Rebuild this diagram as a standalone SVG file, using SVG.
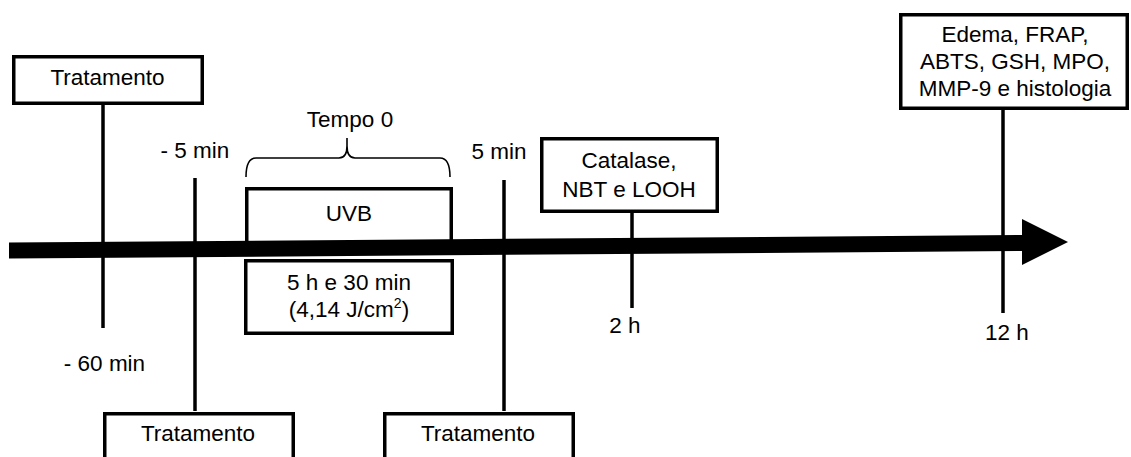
<svg xmlns="http://www.w3.org/2000/svg" width="1131" height="457" viewBox="0 0 1131 457">
<style>
.box{fill:#fff;stroke:#000;stroke-width:3.5}
.ln{stroke:#000;stroke-width:3.5;fill:none}
.br{stroke:#000;stroke-width:1.6;fill:none}
text{font-family:"Liberation Sans",Arial,sans-serif;font-size:22.5px;fill:#000;text-anchor:middle}
</style>
<rect width="1131" height="457" fill="#fff"/>
<g id="connectors">
<line class="ln" x1="103" y1="105" x2="103" y2="328"/>
<line class="ln" x1="195" y1="178" x2="195" y2="411"/>
<line class="ln" x1="504" y1="180" x2="504" y2="411"/>
<line class="ln" x1="632" y1="212" x2="632" y2="308"/>
<line class="ln" x1="1003" y1="109" x2="1003" y2="313"/>
<path class="br" d="M246,177 Q246,158 256,158 L339,158 Q347,158 347,146 L347,138 M347,146 Q347,158 355,158 L440,158 Q450,158 450,177"/>
</g>
<g id="uvb">
<rect class="box" x="246.75" y="188.75" width="204.5" height="55"/>
<text x="349" y="221">UVB</text>
</g>
<g id="timeline">
<polygon points="9,242.5 1022,235 1022,219 1068,242 1022,265 1022,251 9,258.5" fill="#000"/>
</g>
<g id="trat-top">
<rect class="box" x="13.75" y="56.75" width="188.5" height="46.5"/>
<text x="107.5" y="85">Tratamento</text>
</g>
<g id="trat-bl">
<rect class="box" x="104.75" y="413.75" width="188.5" height="60"/>
<text x="198" y="441">Tratamento</text>
</g>
<g id="trat-br">
<rect class="box" x="384.75" y="413.75" width="188.5" height="60"/>
<text x="478" y="441">Tratamento</text>
</g>
<g id="dose">
<rect class="box" x="245.75" y="260.75" width="206.5" height="72.5"/>
<text x="349" y="290">5 h e 30 min</text>
<text x="349" y="317">(4,14 J/cm<tspan font-size="14" dy="-9">2</tspan><tspan dy="9">)</tspan></text>
</g>
<g id="catalase">
<rect class="box" x="541.75" y="138.75" width="175.5" height="72.5"/>
<text x="629" y="168">Catalase,</text>
<text x="629" y="197">NBT e LOOH</text>
</g>
<g id="edema">
<rect class="box" x="900.75" y="14.75" width="226.5" height="93.5"/>
<text x="1015" y="42">Edema, FRAP,</text>
<text x="1015" y="69">ABTS, GSH, MPO,</text>
<text x="1015" y="96">MMP-9 e histologia</text>
</g>
<g id="labels">
<text x="350" y="127">Tempo 0</text>
<text x="195" y="158">- 5 min</text>
<text x="499" y="159">5 min</text>
<text x="104.5" y="371">- 60 min</text>
<text x="625" y="333">2 h</text>
<text x="1007" y="340">12 h</text>
</g>
</svg>
